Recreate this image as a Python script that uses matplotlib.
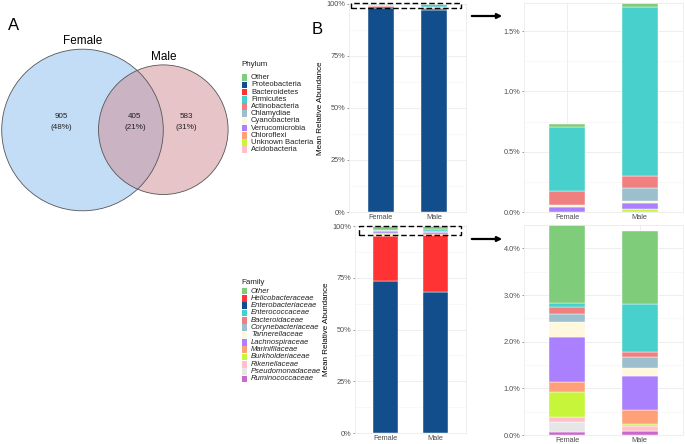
import matplotlib
matplotlib.use('Agg')
import matplotlib.pyplot as plt
from matplotlib.patches import Circle, Rectangle
from matplotlib.ticker import FuncFormatter, MultipleLocator

plt.rcParams['font.family'] = ['Liberation Sans', 'DejaVu Sans']

# ---- data ----
groups = ['Female', 'Male']

venn_counts = [905, 405, 583]
venn_pcts = ['(48%)', '(21%)', '(31%)']

phyla = ['Other', 'Proteobacteria', 'Bacteroidetes', 'Firmicutes', 'Actinobacteria',
         'Chlamydiae', 'Cyanobacteria', 'Verrucomicrobia', 'Chloroflexi',
         'Unknown Bacteria', 'Acidobacteria']
phylum_female = [0.03, 97.90, 1.367, 0.532, 0.11, 0.0, 0.02, 0.041, 0.0, 0.0, 0.0]
phylum_male = [0.032, 97.20, 1.07, 1.398, 0.101, 0.108, 0.017, 0.052, 0.0, 0.022, 0.0]
phylum_major = ['Proteobacteria', 'Bacteroidetes']  # bottom first

families = ['Other', 'Helicobacteraceae', 'Enterobacteriaceae', 'Enterococcaceae',
            'Bacteroidaceae', 'Corynebacteriaceae', 'Tannerellaceae', 'Lachnospiraceae',
            'Marinifilaceae', 'Burkholderiaceae', 'Rikenellaceae', 'Pseudomonadaceae',
            'Ruminococcaceae']
family_female = [1.90, 21.78, 73.50, 0.07, 0.15, 0.17, 0.33, 0.97, 0.214, 0.53, 0.10, 0.229, 0.057]
family_male = [1.57, 27.43, 68.20, 1.03, 0.10, 0.24, 0.17, 0.73, 0.287, 0.05, 0.097, 0.01, 0.086]
family_major = ['Enterobacteriaceae', 'Helicobacteraceae']  # bottom first

phylum_colors = ['#7FCC7A', '#124E8C', '#FF3333', '#48D1CC', '#F08080', '#9BBFCC',
                 '#FFF8DC', '#AA80FF', '#FFA07A', '#C6F53A', '#FFC0CB']
family_colors = ['#7FCC7A', '#FF3333', '#124E8C', '#48D1CC', '#F08080', '#9BBFCC',
                 '#FFF8DC', '#AA80FF', '#FFA07A', '#C6F53A', '#FFC0CB', '#E6E6E6', '#CC66CC']

# ---- figure ----
W, H = 685, 444
fig = plt.figure(figsize=(W / 100, H / 100), dpi=100)


def px_axes(x0, y0, x1, y1):
    # axes placed by pixel box (top-left origin)
    return fig.add_axes([x0 / W, 1 - y1 / H, (x1 - x0) / W, (y1 - y0) / H])


# Venn diagram
axv = px_axes(0, 0, 240, 444)
axv.set_xlim(0, 240)
axv.set_ylim(444, 0)
axv.axis('off')
axv.add_patch(Circle((82.5, 130), 80.8, facecolor='#8BBDF1', alpha=0.5, edgecolor='none'))
axv.add_patch(Circle((163.3, 129.7), 64.8, facecolor='#D18B91', alpha=0.5, edgecolor='none'))
axv.add_patch(Circle((82.5, 130), 80.8, fill=False, edgecolor='#555555', lw=0.6))
axv.add_patch(Circle((163.3, 129.7), 64.8, fill=False, edgecolor='#555555', lw=0.6))
for x, n, p in zip([61.7, 135, 186.7], venn_counts, venn_pcts):
    axv.text(x, 116.5, str(n), ha='center', va='center', fontsize=5.8, color='#222222')
    axv.text(x, 127.7, p, ha='center', va='center', fontsize=5.8, color='#222222')
axv.text(82.7, 41.5, groups[0], ha='center', va='center', fontsize=8.5)
axv.text(163.3, 57.3, groups[1], ha='center', va='center', fontsize=8.5)
axv.text(14, 26, 'A', ha='center', va='center', fontsize=12)
axv.text(317, 29, 'B', ha='center', va='center', fontsize=12, clip_on=False)


def style_axes(ax, ymax, major, fmt):
    ax.set_xlim(0.4, 2.6)
    ax.set_ylim(0, ymax)
    ax.yaxis.set_major_locator(MultipleLocator(major))
    ax.yaxis.set_minor_locator(MultipleLocator(major / 2))
    ax.yaxis.set_major_formatter(FuncFormatter(fmt))
    ax.set_xticks([1, 2])
    ax.set_xticklabels(groups)
    ax.tick_params(axis='both', which='major', labelsize=5.3, colors='#4D4D4D',
                   length=1.5, width=0.4, pad=1)
    ax.tick_params(axis='y', which='minor', length=0)
    ax.tick_params(axis='x', length=0, pad=1.5)
    ax.grid(True, which='major', axis='y', color='#EBEBEB', lw=0.6)
    ax.grid(True, which='minor', axis='y', color='#F3F3F3', lw=0.4)
    ax.grid(True, which='major', axis='x', color='#EBEBEB', lw=0.6)
    ax.set_axisbelow(True)
    for s in ax.spines.values():
        s.set_color('#EBEBEB')
        s.set_linewidth(0.6)


def stacked(ax, names, colors, female, male, major, show_major=True):
    # dominant taxa at the bottom, then minor taxa in reverse legend order, 'Other' on top
    cmap = dict(zip(names, colors))
    minor = [n for n in names[::-1] if n not in major and n != 'Other']
    order = (list(major) if show_major else []) + minor + ['Other']
    bottoms = [0.0, 0.0]
    for name in order:
        i = names.index(name)
        vals = [female[i], male[i]]
        ax.bar([1, 2], vals, width=0.5, bottom=bottoms, color=cmap[name],
               edgecolor='white', linewidth=0.3)
        bottoms = [b + v for b, v in zip(bottoms, vals)]


pct0 = lambda v, _: f'{v:.0f}%'
pct1 = lambda v, _: f'{v:.1f}%'

ax1 = px_axes(349, 4, 466, 212)
stacked(ax1, phyla, phylum_colors, phylum_female, phylum_male, phylum_major)
style_axes(ax1, 100, 25, pct0)
ax1.set_ylabel('Mean Relative Abundance', fontsize=5.8, labelpad=2)

ax2 = px_axes(524, 3, 683, 212)
stacked(ax2, phyla, phylum_colors, phylum_female, phylum_male, phylum_major, show_major=False)
style_axes(ax2, 1.734, 0.5, pct1)

ax3 = px_axes(355, 226, 466, 433)
stacked(ax3, families, family_colors, family_female, family_male, family_major)
style_axes(ax3, 100, 25, pct0)
ax3.set_ylabel('Mean Relative Abundance', fontsize=5.8, labelpad=2)

ax4 = px_axes(524, 225, 683, 435)
stacked(ax4, families, family_colors, family_female, family_male, family_major, show_major=False)
style_axes(ax4, 4.5, 1.0, pct1)

# dashed zoom boxes
ax1.add_patch(Rectangle((0.44, 98.0), 2.06, 2.4, fill=False, ls=(0, (4, 2)), lw=1.0,
                        edgecolor='black', clip_on=False, zorder=5))
ax3.add_patch(Rectangle((0.48, 95.6), 2.02, 4.5, fill=False, ls=(0, (4, 2)), lw=1.0,
                        edgecolor='black', clip_on=False, zorder=5))

# overlay for arrows and legends
axo = px_axes(0, 0, W, H)
axo.set_xlim(0, W)
axo.set_ylim(H, 0)
axo.axis('off')
axo.patch.set_alpha(0)
for y in (16, 239):
    axo.annotate('', xy=(505, y), xytext=(469, y),
                 arrowprops=dict(arrowstyle='-|>', color='black', lw=1.6, mutation_scale=7))


def draw_legend(title, names, colors, y_title, y0, step, italic):
    axo.text(241, y_title, title, ha='left', va='center', fontsize=5.8, color='#222222')
    for k, name in enumerate(names):
        y = y0 + k * step
        axo.add_patch(Rectangle((242.5, y - step / 2 + 0.3), 4.5, step - 0.6,
                                facecolor=colors[k], edgecolor='none'))
        axo.text(251, y, name, ha='left', va='center', fontsize=5.5, color='#222222',
                 style='italic' if italic else 'normal')


draw_legend('Phylum', phyla, phylum_colors, 64, 77.7, 7.2, False)
draw_legend('Family', families, family_colors, 282, 291, 7.33, True)

fig.savefig('out.png', dpi=100)
